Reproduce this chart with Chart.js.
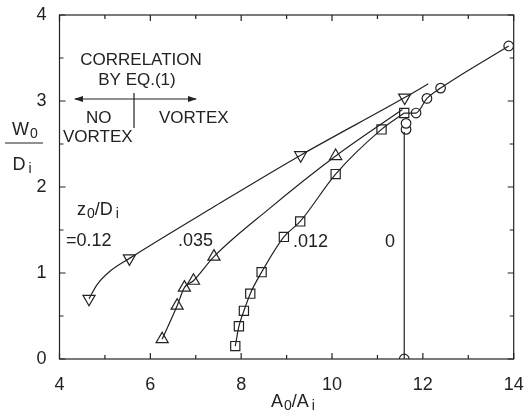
<!DOCTYPE html>
<html>
<head>
<meta charset="utf-8">
<script src="https://cdn.jsdelivr.net/npm/chart.js@4/dist/chart.umd.min.js"></script>
<style>
  body { margin: 0; background: #fff; }
</style>
</head>
<body>
<canvas id="chart" width="526" height="419"></canvas>
<script>
// z0/Di = 0.12 (inverted triangles)
const invTriX = [4.65, 5.54, 9.31, 11.60];
const invTriY = [0.70, 1.17, 2.37, 3.04];
const invTriFitX = [4.65, 4.82, 5.11, 5.54, 7.4, 9.31, 11.60, 12.12];
const invTriFitY = [0.70, 0.86, 1.02, 1.17, 1.77, 2.37, 3.04, 3.20];

// z0/Di = .035 (triangles)
const triX = [6.26, 6.59, 6.75, 6.95, 7.40, 10.08];
const triY = [0.23, 0.62, 0.83, 0.91, 1.19, 2.36];
const triFitX = [6.26, 6.59, 6.75, 6.95, 7.40, 8.6, 10.08, 11.55];
const triFitY = [0.23, 0.62, 0.83, 0.91, 1.19, 1.74, 2.36, 2.90];

// z0/Di = .012 (squares)
const sqX = [7.87, 7.95, 8.06, 8.20, 8.45, 8.94, 9.30, 10.08, 11.09, 11.59];
const sqY = [0.15, 0.38, 0.56, 0.76, 1.01, 1.42, 1.60, 2.15, 2.67, 2.86];

// z0/Di = 0 (circles)
const circX = [11.59, 11.63, 11.63, 11.85, 12.09, 12.39, 13.89];
const circY = [0.00, 2.67, 2.74, 2.86, 3.03, 3.15, 3.64];
const circVertX = [11.59, 11.59];
const circVertY = [0.00, 2.64];
const circFitX = [11.59, 11.85, 12.09, 12.39, 13.89];
const circFitY = [2.86, 2.86, 3.03, 3.15, 3.64];

const xTicks = [4, 6, 8, 10, 12, 14];
const yTicks = [0, 1, 2, 3, 4];

const ink = '#222';
const FONT = '"Liberation Sans", Arial, sans-serif';

function pts(xs, ys) {
    return xs.map((x, i) => ({ x: x, y: ys[i] }));
}

function curve(xs, ys, smooth) {
    return {
        data: pts(xs, ys),
        showLine: true,
        borderColor: ink,
        borderWidth: 1.2,
        pointRadius: 0,
        cubicInterpolationMode: smooth ? 'monotone' : 'default',
        tension: 0,
        fill: false
    };
}

function marks(xs, ys, style, radius, rotation) {
    return {
        data: pts(xs, ys),
        showLine: false,
        pointStyle: style,
        pointRadius: radius,
        pointRotation: rotation || 0,
        pointBackgroundColor: '#fff',
        pointBorderColor: ink,
        pointBorderWidth: 1.2
    };
}

// text with subscripts: parts = [[text, isSub, gapBefore], ...]
function subText(ctx, parts, x, y, align) {
    const big = '18px ' + FONT;
    const small = '14px ' + FONT;
    let w = 0;
    parts.forEach(p => {
        ctx.font = p[1] ? small : big;
        w += ctx.measureText(p[0]).width + (p[2] || 0);
    });
    let cx = align === 'center' ? x - w / 2 : x;
    parts.forEach(p => {
        ctx.font = p[1] ? small : big;
        cx += p[2] || 0;
        ctx.fillText(p[0], cx, p[1] ? y + 3 : y);
        cx += ctx.measureText(p[0]).width;
    });
}

const frame = {
    id: 'frame',
    afterDatasetsDraw(chart) {
        const ctx = chart.ctx;
        const a = chart.chartArea;
        const xs = chart.scales.x;
        const ys = chart.scales.y;
        ctx.save();
        ctx.strokeStyle = ink;
        ctx.lineWidth = 1.2;
        ctx.strokeRect(a.left, a.top, a.right - a.left, a.bottom - a.top);

        // inward ticks on all four sides
        ctx.beginPath();
        xs.ticks.forEach(t => {
            const px = xs.getPixelForValue(t.value);
            const len = t.value % 2 === 0 ? 6 : 4;
            ctx.moveTo(px, a.bottom); ctx.lineTo(px, a.bottom - len);
            ctx.moveTo(px, a.top); ctx.lineTo(px, a.top + len);
        });
        ys.ticks.forEach(t => {
            const py = ys.getPixelForValue(t.value);
            const len = Number.isInteger(t.value) ? 6 : 4;
            ctx.moveTo(a.left, py); ctx.lineTo(a.left + len, py);
            ctx.moveTo(a.right, py); ctx.lineTo(a.right - len, py);
        });
        ctx.stroke();

        ctx.fillStyle = ink;
        ctx.textBaseline = 'alphabetic';
        ctx.textAlign = 'left';

        // axis titles
        subText(ctx, [['W', false], ['0', true, 1]], 25, 135, 'center');
        ctx.beginPath();
        ctx.moveTo(5, 143); ctx.lineTo(43, 143);
        ctx.stroke();
        subText(ctx, [['D', false], ['i', true, 3]], 22, 170, 'center');
        subText(ctx, [['A', false], ['0', true, 1], ['/A', false], ['i', true, 3]], 293, 407, 'center');

        // correlation note
        ctx.font = '17px ' + FONT;
        ctx.textAlign = 'center';
        ctx.fillText('CORRELATION', 141, 65);
        ctx.fillText('BY EQ.(1)', 137, 85);
        ctx.textAlign = 'left';
        ctx.fillText('NO', 86, 123);
        ctx.fillText('VORTEX', 63, 142);
        ctx.fillText('VORTEX', 159, 123);

        ctx.beginPath();
        ctx.moveTo(75, 99); ctx.lineTo(196, 99);
        ctx.moveTo(134, 93); ctx.lineTo(134, 128);
        ctx.stroke();
        ctx.beginPath();
        ctx.moveTo(74, 99); ctx.lineTo(83, 96); ctx.lineTo(83, 102); ctx.closePath();
        ctx.moveTo(197, 99); ctx.lineTo(188, 96); ctx.lineTo(188, 102); ctx.closePath();
        ctx.fill();

        // series labels
        subText(ctx, [['z', false], ['0', true, 1], ['/D', false], ['i', true, 3]], 77, 215, 'left');
        ctx.font = '18px ' + FONT;
        ctx.fillText('=0.12', 66, 246);
        ctx.fillText('.035', 178, 246);
        ctx.fillText('.012', 293, 247);
        ctx.fillText('0', 385, 247);
        ctx.restore();
    }
};

new Chart(document.getElementById('chart'), {
    type: 'scatter',
    data: {
        datasets: [
            curve(invTriFitX, invTriFitY, true),
            curve(triFitX, triFitY, true),
            curve(sqX, sqY, true),
            curve(circVertX, circVertY, false),
            curve(circFitX, circFitY, true),
            marks(invTriX, invTriY, 'triangle', 7, 180),
            marks(triX, triY, 'triangle', 7, 0),
            marks(sqX, sqY, 'rect', 6.5, 0),
            marks(circX, circY, 'circle', 4.8, 0)
        ]
    },
    options: {
        responsive: false,
        animation: false,
        layout: { padding: { top: 15, right: 12.3, left: 0, bottom: 0 } },
        plugins: {
            legend: { display: false },
            tooltip: { enabled: false }
        },
        scales: {
            x: {
                type: 'linear',
                min: 4,
                max: 14,
                border: { display: false },
                grid: { display: false, drawTicks: false },
                afterFit: s => { s.height = 60; s.paddingLeft = 0; s.paddingRight = 0; },
                ticks: {
                    stepSize: 1,
                    padding: 15,
                    color: ink,
                    font: { family: FONT, size: 18 },
                    autoSkip: false,
                    maxRotation: 0,
                    callback: v => xTicks.includes(v) ? String(v) : ''
                }
            },
            y: {
                min: 0,
                max: 4,
                border: { display: false },
                grid: { display: false, drawTicks: false },
                afterFit: s => { s.width = 59.5; s.paddingTop = 0; s.paddingBottom = 0; },
                ticks: {
                    stepSize: 0.5,
                    padding: 13,
                    color: ink,
                    font: { family: FONT, size: 18 },
                    autoSkip: false,
                    callback: v => yTicks.includes(v) ? String(v) : ''
                }
            }
        }
    },
    plugins: [frame]
});
</script>
</body>
</html>
